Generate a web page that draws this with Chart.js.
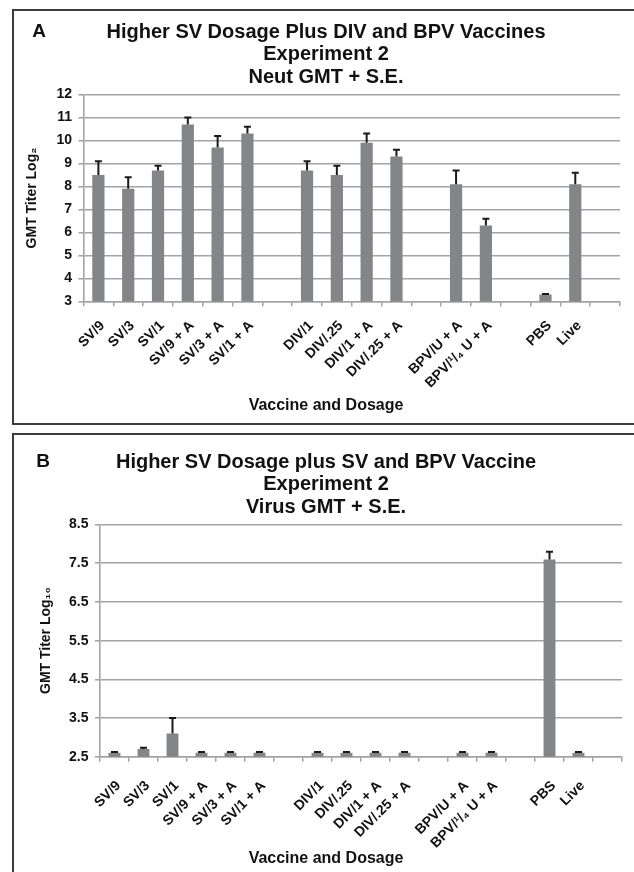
<!DOCTYPE html>
<html>
<head>
<meta charset="utf-8">
<script src="https://cdn.jsdelivr.net/npm/chart.js@4.4.1/dist/chart.umd.min.js"></script>
<style>
  html, body { margin: 0; padding: 0; background: #fff; overflow: hidden; }
  body { width: 634px; height: 872px; position: relative; }
  .frame { position: absolute; left: 12px; width: 640px; border: 2px solid #3c3c3c; box-sizing: border-box; }
  #frameA { top: 9px; height: 416px; }
  #frameB { top: 433px; height: 460px; }
  canvas { position: absolute; left: 13px; }
  #chartA { top: 10px; }
  #chartB { top: 434px; }
</style>
</head>
<body>
<div class="frame" id="frameA"></div>
<div class="frame" id="frameB"></div>
<canvas id="chartA" width="627" height="414"></canvas>
<canvas id="chartB" width="627" height="438"></canvas>
<script>
// vaccine groups (empty strings are the gaps between groups)
const categories = ['SV/9', 'SV/3', 'SV/1', 'SV/9 + A', 'SV/3 + A', 'SV/1 + A', '',
  'DIV/1', 'DIV/.25', 'DIV/1 + A', 'DIV/.25 + A', '',
  'BPV/U + A', 'BPV/\u00b9/\u2084 U + A', '', 'PBS', 'Live', ''];

// panel A - neutralizing antibody GMT (log2) and S.E.
const neutGmt = [8.5, 7.9, 8.7, 10.7, 9.7, 10.3, null, 8.7, 8.5, 9.9, 9.3, null, 8.1, 6.3, null, 3.3, 8.1, null];
const neutSe  = [0.6, 0.5, 0.2, 0.3, 0.5, 0.3, null, 0.4, 0.4, 0.4, 0.3, null, 0.6, 0.3, null, 0.03, 0.5, null];

// panel B - virus GMT (log10) and S.E.
const virusGmt = [2.6, 2.7, 3.1, 2.6, 2.6, 2.6, null, 2.6, 2.6, 2.6, 2.6, null, 2.6, 2.6, null, 7.6, 2.6, null];
const virusSe  = [0.02, 0.03, 0.4, 0.02, 0.02, 0.02, null, 0.02, 0.02, 0.02, 0.02, null, 0.02, 0.02, null, 0.2, 0.02, null];

const titleA = ['Higher SV Dosage Plus DIV and BPV Vaccines', 'Experiment 2', 'Neut GMT + S.E.'];
const titleB = ['Higher SV Dosage plus SV and BPV Vaccine', 'Experiment 2', 'Virus GMT + S.E.'];

Chart.defaults.font.family = '"Liberation Sans", Arial, sans-serif';
Chart.defaults.font.weight = 'bold';
Chart.defaults.color = '#111';

const gridGrey = '#a3a3a3';

// draws the S.E. whiskers (upper half only, like the original)
const errorBars = {
  id: 'errorBars',
  afterDatasetsDraw(chart, args, opts) {
    const ctx = chart.ctx;
    const yScale = chart.scales.y;
    const values = chart.data.datasets[0].data;
    const meta = chart.getDatasetMeta(0);
    ctx.save();
    ctx.strokeStyle = '#1a1a1a';
    ctx.lineWidth = 2;
    meta.data.forEach(function(bar, i) {
      if (values[i] == null) return;
      let top = yScale.getPixelForValue(values[i] + opts.errors[i]);
      ctx.beginPath();
      ctx.moveTo(bar.x, bar.y);
      ctx.lineTo(bar.x, top);
      ctx.moveTo(bar.x - 3.5, top);
      ctx.lineTo(bar.x + 3.5, top);
      ctx.stroke();
    });
    ctx.restore();
  }
};

// panel letter, centred title and x axis title
const panelText = {
  id: 'panelText',
  afterDraw(chart, args, opts) {
    const ctx = chart.ctx;
    ctx.save();
    ctx.fillStyle = '#111';
    ctx.textAlign = 'center';
    ctx.textBaseline = 'middle';
    ctx.font = 'bold 20px "Liberation Sans", Arial, sans-serif';
    opts.title.forEach(function(line, i) {
      ctx.fillText(line, opts.centerX, opts.titleY + i * 22.5);
    });
    ctx.font = 'bold 19px "Liberation Sans", Arial, sans-serif';
    ctx.fillText(opts.letter, opts.letterX, opts.titleY);
    ctx.font = 'bold 16px "Liberation Sans", Arial, sans-serif';
    ctx.fillText('Vaccine and Dosage', opts.centerX, opts.xTitleY);
    ctx.restore();
  }
};

function makeChart(id, values, errors, cfg) {
  return new Chart(document.getElementById(id), {
    type: 'bar',
    data: {
      labels: categories,
      datasets: [{
        data: values,
        backgroundColor: '#848588',
        categoryPercentage: 1,
        barPercentage: 0.41
      }]
    },
    options: {
      responsive: false,
      animation: false,
      layout: { padding: { left: 0, top: cfg.top, right: cfg.right, bottom: 0 } },
      plugins: {
        legend: { display: false },
        title: { display: false },
        tooltip: { enabled: false },
        errorBars: { errors: errors },
        panelText: {
          title: cfg.title, letter: cfg.letter, letterX: cfg.letterX,
          centerX: 313, titleY: cfg.titleY, xTitleY: cfg.xTitleY
        }
      },
      scales: {
        x: {
          afterFit: function(s) { s.height = cfg.xHeight; },
          grid: { drawOnChartArea: false, tickLength: 5, color: gridGrey, lineWidth: 1.5 },
          border: { color: gridGrey, width: 1.5 },
          ticks: { autoSkip: false, maxRotation: 45, minRotation: 45, padding: cfg.xPad, labelOffset: 4,
                   font: { size: 14, weight: 'bold' }, color: '#111' }
        },
        y: {
          min: cfg.min, max: cfg.max,
          afterFit: function(s) { s.width = cfg.yWidth; },
          grid: { tickLength: 5, color: gridGrey, lineWidth: 1.6 },
          border: { color: gridGrey, width: 1.6 },
          ticks: { stepSize: 1, padding: 6.5, font: { size: 14, weight: 'bold' }, color: '#111',
                   callback: cfg.tickFmt },
          title: { display: true, text: cfg.yTitle, font: { size: 14, weight: 'bold' },
                   color: '#111', padding: { top: cfg.yTitlePad, bottom: 0 } }
        }
      }
    },
    plugins: [errorBars, panelText]
  });
}

makeChart('chartA', neutGmt, neutSe, {
  title: titleA, letter: 'A', letterX: 26, titleY: 22, xTitleY: 396,
  top: 84.5, right: 20, xHeight: 122.5, yWidth: 70.5, yTitlePad: 11, xPad: 11,
  min: 3, max: 12, yTitle: 'GMT Titer Log\u2082',
  tickFmt: function(v) { return v; }
});

makeChart('chartB', virusGmt, virusSe, {
  title: titleB, letter: 'B', letterX: 30, titleY: 28, xTitleY: 425,
  top: 90.6, right: 18, xHeight: 115.3, yWidth: 87, yTitlePad: 25, xPad: 16,
  min: 2.5, max: 8.5, yTitle: 'GMT Titer Log\u2081\u2080',
  tickFmt: function(v) { return v.toFixed(1); }
});
</script>
</body>
</html>
